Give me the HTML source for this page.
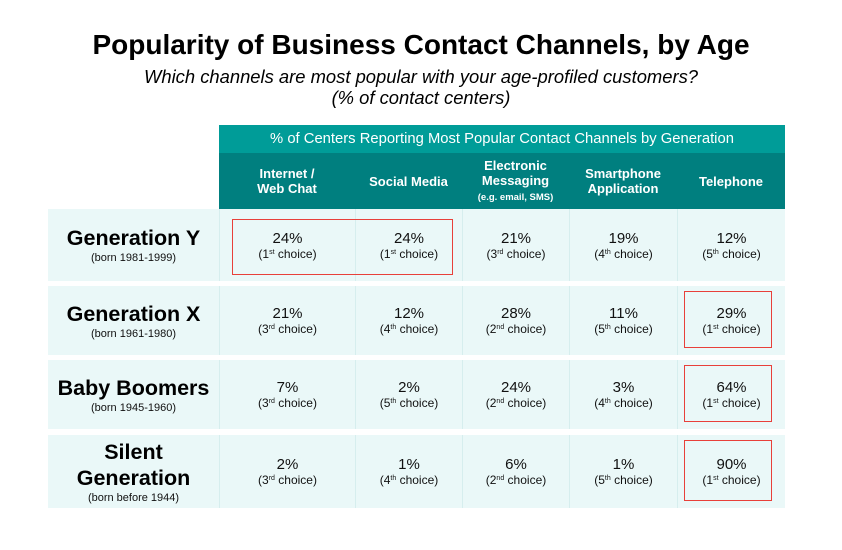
<!DOCTYPE html>
<html><head><meta charset="utf-8"><style>
body{margin:0;width:842px;height:550px;background:#fff;font-family:"Liberation Sans",Arial,sans-serif;position:relative;overflow:hidden}
.abs{position:absolute;box-sizing:border-box}
.t{left:0;width:842px;text-align:center}
.hdr{color:#fff;font-weight:bold;font-size:13px;display:flex;align-items:center;justify-content:center;text-align:center;line-height:15px}
.row{background:#eaf8f8}
.cell{display:flex;flex-direction:column;align-items:center;justify-content:center;color:#111;border-left:1px solid #d6eeee}
.v{font-size:15px;line-height:17px}
.c{font-size:12px;line-height:14px}
sup{font-size:7px;vertical-align:4px;line-height:0}
.lab{display:flex;flex-direction:column;align-items:center;justify-content:center;text-align:center}
.ln{font-weight:bold;font-size:21.5px;line-height:26px;color:#000}
.sub{font-size:11px;color:#111;line-height:14px}
.box{border:1.5px solid #e8403a}
</style></head><body>
<div class="abs t" style="top:29px;font-weight:bold;font-size:28px">Popularity of Business Contact Channels, by Age</div>
<div class="abs t" style="top:66px;font-style:italic;font-size:18.4px;line-height:21px">Which channels are most popular with your age-profiled customers?<br>(% of contact centers)</div>
<div class="abs hdr" style="left:219px;top:125px;width:566px;height:28px;background:#009c98;font-weight:normal;font-size:14.8px">% of Centers Reporting Most Popular Contact Channels by Generation</div>
<div class="abs" style="left:219px;top:153px;width:566px;height:56px;background:#007f7f"></div>
<div id="tbl"></div>
<script>
const channels=["Internet /<br>Web Chat","Social Media","Electronic<br>Messaging<br><span style='font-size:9.5px;line-height:12px'>(e.g. email, SMS)</span>","Smartphone<br>Application","Telephone"];
const generations=["Generation Y","Generation X","Baby Boomers","Silent<br>Generation"];
const born=["(born 1981-1999)","(born 1961-1980)","(born 1945-1960)","(born before 1944)"];
const values=[[24,24,21,19,12],[21,12,28,11,29],[7,2,24,3,64],[2,1,6,1,90]];
const ranks=[[1,1,3,4,5],[3,4,2,5,1],[3,5,2,4,1],[3,4,2,5,1]];
const colX=[219,355,462,569,677,785];
const rowY=[[209,281],[286,355],[360,429],[435,508]];
const suf=r=>r==1?"st":r==2?"nd":r==3?"rd":"th";
const root=document.getElementById('tbl');
function mk(cls,style,html){const d=document.createElement('div');d.className='abs '+cls;d.style.cssText=style;if(html!=null)d.innerHTML=html;root.appendChild(d);return d;}
channels.forEach((c,i)=>{
 const h=mk('hdr',`left:${colX[i]}px;top:153px;width:${colX[i+1]-colX[i]}px;height:56px`,`<div>${c}</div>`);
 
 
});
generations.forEach((g,r)=>{
 const [y0,y1]=rowY[r];
 const bg=mk('row',`left:48px;top:${y0}px;width:737px;height:${y1-y0}px`);
 
 
 const l=mk('lab',`left:48px;top:${y0}px;width:171px;height:${y1-y0}px`,`<div class="ln">${g}</div><div class="sub">${born[r]}</div>`);
 
 
 values[r].forEach((v,i)=>{
  const rk=ranks[r][i];
  const c=mk('cell',`left:${colX[i]}px;top:${y0}px;width:${colX[i+1]-colX[i]}px;height:${y1-y0}px`,`<div class="v">${v}%</div><div class="c">(${rk}<sup>${suf(rk)}</sup> choice)</div>`);
  
  
  if(rk===1&&r>0){
   const b=mk('box',`left:${colX[i]+7}px;top:${y0+5}px;width:88px;height:${y1-y0-12}px`);
   
   
  }
 });
});
const b0=mk('box',`left:232px;top:${rowY[0][0]+10}px;width:221px;height:56px`);


</script>
</body></html>
